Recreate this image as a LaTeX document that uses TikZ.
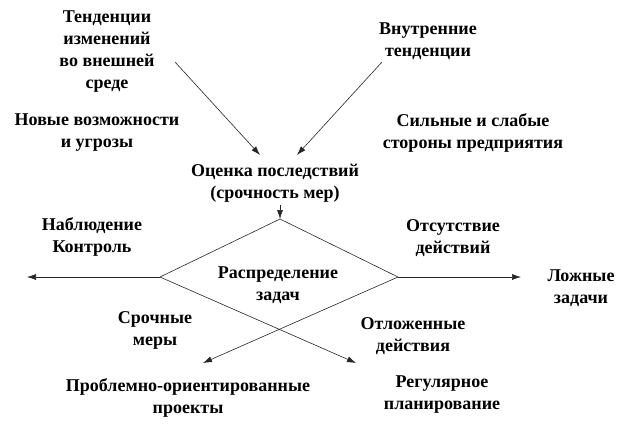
\documentclass[tikz,border=0pt]{standalone}
\usepackage{fontspec}
\setmainfont{Liberation Serif}
\usetikzlibrary{arrows.meta}
\begin{document}
\begin{tikzpicture}[x=1pt,y=-1pt,
  lbl/.style={font=\bfseries\fontsize{18}{22}\selectfont,align=center,inner sep=0pt},
  conn/.style={line width=0.6pt,draw=black!85},
  arr/.style={conn,-{Latex[length=9pt,width=6pt]}}]
\useasboundingbox (0,0) rectangle (637,437);
% text nodes
\node[lbl] (tend) at (107,52) {Тенденции\\изменений\\во внешней\\среде};
\node[lbl] (novye) at (97,133) {Новые возможности\\и угрозы};
\node[lbl] (vnutr) at (428,41) {Внутренние\\тенденции};
\node[lbl] (silnye) at (473,133) {Сильные и слабые\\стороны предприятия};
\node[lbl] (ocenka) at (275,183) {Оценка последствий\\(срочность мер)};
\node[lbl] (nabl) at (92,237) {Наблюдение\\Контроль};
\node[lbl] (raspr) at (278,285) {Распределение\\задач};
\node[lbl] (sroch) at (155,330) {Срочные\\меры};
\node[lbl] (probl) at (188,398) {Проблемно-ориентированные\\проекты};
\node[lbl] (otsut) at (453,238) {Отсутствие\\действий};
\node[lbl] (lozh) at (581,288) {Ложные\\задачи};
\node[lbl] (otlozh) at (413,336) {Отложенные\\действия};
\node[lbl] (regul) at (442,395) {Регулярное\\планирование};
% coordinates
\coordinate (t1) at (175,62);
\coordinate (t1e) at (260,155);
\coordinate (t2) at (382,62);
\coordinate (t2e) at (297,155);
\coordinate (os) at (280,205);
\coordinate (dtop) at (280,219);
\coordinate (dleft) at (160,277);
\coordinate (dright) at (398,277);
\coordinate (lend) at (27,277);
\coordinate (rend) at (521,277);
\coordinate (bl) at (203,363);
\coordinate (br) at (356,363);
% connectors
\draw[arr] (t1) -- (t1e);
\draw[arr] (t2) -- (t2e);
\draw[arr] (os) -- (dtop);
\draw[conn] (dleft) -- (dtop) -- (dright);
\draw[arr] (dleft) -- (lend);
\draw[arr] (dright) -- (rend);
\draw[arr] (dleft) -- (br);
\draw[arr] (dright) -- (bl);
\end{tikzpicture}
\end{document}
